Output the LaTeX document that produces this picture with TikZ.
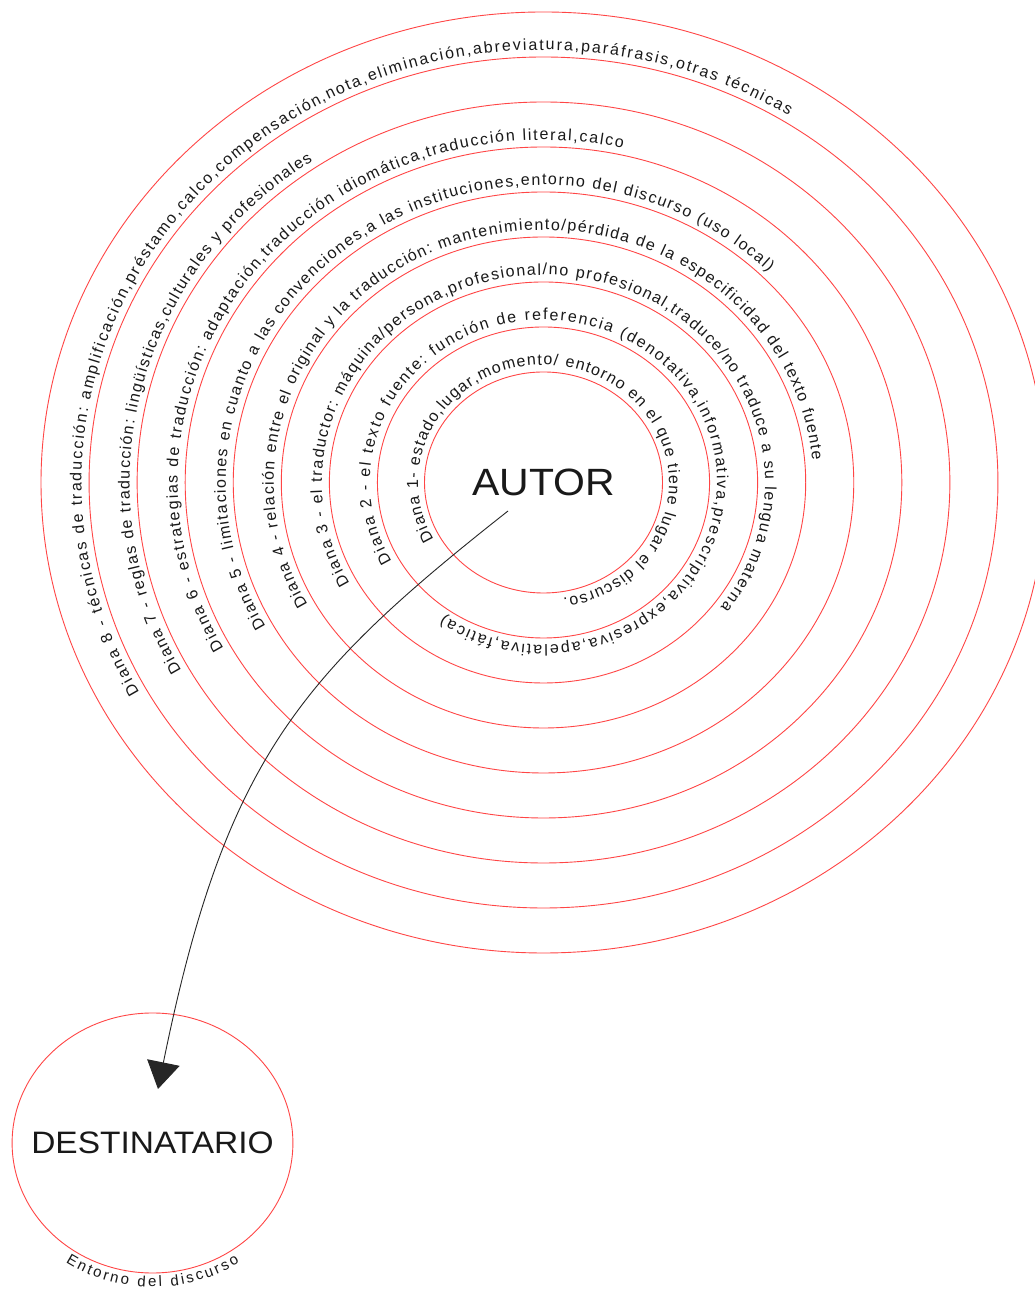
\documentclass[tikz,border=0pt]{standalone}
\usepackage{fontspec}
\setmainfont{Liberation Sans}
\usetikzlibrary{decorations.text,arrows.meta}

\definecolor{ringred}{RGB}{255,70,70}
\definecolor{ink}{RGB}{25,25,25}

\newcommand\ringfont{\fontsize{16}{16}\selectfont}
\newcommand\envfont{\fontsize{15}{15}\selectfont}

\tikzset{
  ring/.style={draw=ringred, line width=0.9pt},
  ringnode/.style={circle, draw=ringred, line width=0.9pt, inner sep=0pt, text=ink},
  ringlabel/.style={decorate, decoration={text along path, text={|\ringfont\color{ink}|#1}, text align={fit to path}}},
  envlabel/.style={decorate, decoration={text along path, text={|\envfont\color{ink}|#1}, text align={fit to path}}},
  flow/.style={draw=black!85, line width=0.9pt, -{Triangle[length=27pt,width=33pt]}}
}

\begin{document}
\begin{tikzpicture}[x=1pt,y=1pt]
  \useasboundingbox (0,0) rectangle (1035,1290);
  \fill[white] (0,0) rectangle (1035,1290);

  \coordinate (ctr) at (543.5,807.5);

  % the eight outer rings of the target
  \foreach \k in {1,...,8}{
    \pgfmathsetmacro\ry{110.5+45*\k}
    \pgfmathsetmacro\rx{1.068*\ry}
    \draw[ring] (ctr) ellipse [x radius=\rx, y radius=\ry];
  }

  % centre of the target
  \node[ringnode, minimum size=221pt, xscale=1.077, font=\fontsize{38}{38}\selectfont] (autor) at (ctr) {AUTOR};

  % ring labels, read clockwise from the lower left
  \path[ringlabel={Diana 1- estado,lugar,momento/ entorno en el que tiene lugar el discurso.}]
    (ctr) ++(209:125.5 and 117.5) arc[start angle=209, end angle=-81, x radius=125.5, y radius=117.5];
  \path[ringlabel={Diana 2 - el texto fuente: función de referencia (denotativa,informativa,prescriptiva,expresiva,apelativa,fática)}]
    (ctr) ++(209:173.6 and 162.5) arc[start angle=209, end angle=-125, x radius=173.6, y radius=162.5];
  \path[ringlabel={Diana 3 - el traductor: máquina/persona,profesional/no profesional,traduce/no traduce a su lengua materna}]
    (ctr) ++(209:221.6 and 207.5) arc[start angle=209, end angle=-37, x radius=221.6, y radius=207.5];
  \path[ringlabel={Diana 4 - relación entre el original y la traducción: mantenimiento/pérdida de la especificidad del texto fuente}]
    (ctr) ++(209:269.7 and 252.5) arc[start angle=209, end angle=5, x radius=269.7, y radius=252.5];
  \path[ringlabel={Diana 5 - limitaciones en cuanto a las convenciones,a las instituciones,entorno del discurso (uso local)}]
    (ctr) ++(209:317.7 and 297.5) arc[start angle=209, end angle=45, x radius=317.7, y radius=297.5];
  \path[ringlabel={Diana 6 - estrategias de traducción: adaptación,traducción idiomática,traducción literal,calco}]
    (ctr) ++(209:365.8 and 342.5) arc[start angle=209, end angle=77.5, x radius=365.8, y radius=342.5];
  \path[ringlabel={Diana 7 - reglas de traducción: lingüísticas,culturales y profesionales}]
    (ctr) ++(209:413.9 and 387.5) arc[start angle=209, end angle=124, x radius=413.9, y radius=387.5];
  \path[ringlabel={Diana 8 - técnicas de traducción: amplificación,préstamo,calco,compensación,nota,eliminación,abreviatura,paráfrasis,otras técnicas}]
    (ctr) ++(209:461.9 and 432.5) arc[start angle=209, end angle=58, x radius=461.9, y radius=432.5];

  % receiver
  \node[ringnode, minimum size=260pt, xscale=1.08, font=\fontsize{31}{31}\selectfont] (dest) at (152.5,147) {DESTINATARIO};
  \path[envlabel={Entorno del discurso}]
    (dest.center) ++(236:155.5 and 144) arc[start angle=236, end angle=304, x radius=155.5, y radius=144];

  % message from author to receiver
  \coordinate (src) at (508,779);
  \coordinate (dst) at (158,201);
  \draw[flow] (src) .. controls (300,615) and (225,530) .. (dst);
\end{tikzpicture}
\end{document}
